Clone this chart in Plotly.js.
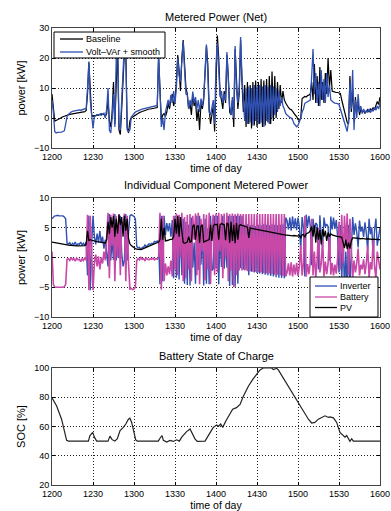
<!DOCTYPE html>
<html><head><meta charset="utf-8">
<script src="https://cdn.plot.ly/plotly-3.0.1.min.js"></script>
<style>html,body{margin:0;padding:0;background:#fff}#chart{width:391px;height:511px}</style>
</head><body><div id="chart"></div>
<script>
// time axis: minutes after 12:00, tick labels as time of day
const tickMinutes = [0,30,60,90,120,150,180,210,240];
const tickLabels = ['1200','1230','1300','1330','1400','1430','1500','1530','1600'];

// Panel 1: metered net power [kW], one sample per minute from 12:00
const baseline = [8,3,-1,-0.8,-0.5,-0.3,0,0.2,0.4,0.6,
0.8,1,1.1,1.2,1.3,1.4,1.5,1.6,1.6,1.7,
1.8,1.9,2,2,2.1,2.5,8,18.5,9,1,
0.5,0.8,0.7,1,0.9,1.2,1,1.3,1.2,0.5,
1.5,6,-1,-3,2,12,-2,14,24,-4,
-5.5,3,15,22,24,-3,-5,-1,0,0.3,
0.8,1,1.3,1.5,1.8,2,2.2,2.4,2.5,2.7,
2.8,3,3,3.1,3.2,3.3,3.4,3.5,20,8,
-0.7,1,1.5,0.5,2,5,3,6,8,4,
6,12,21,16,9,20,26,18,10,8,
3,5,1,8,4,6,-1,3,-4,5,
3,6,14,24,18,3,-2,1,4,-4.5,
15,27.5,20,8,6,3,9,5,21,14,
2,1,6,-3,23,10,3,8,26,12,
2,11,-3,12,-2,11,-3.5,12,-2.5,12.5,
-3,12,-2,13,-3,12.5,-2.5,13,-1.5,14,
-2,15.5,-1,14,0,12,3,11,5,9,
6,5,4,3.5,3,2.8,2.3,1.5,1,0.5,
-0.5,-0.8,0,6.5,7,7.2,7,7.5,7.6,8,
12,6,18,5,14,4,17,6,12,5,
15,8,20,10,16,9,8.8,8.6,8.5,8.5,
8.4,8.2,6,4,2,0,-1.5,-2,14,2,
10,-1,7,2,5,1,3,2,2.5,1.5,
2.2,2.8,2,3,2.5,3.5,2.8,4,5.5,4.5,
7];
const voltVarSmooth = [6,2,-4.5,-5,-4.8,-4.8,-4.6,-4.7,-4.5,-4.3,
-2,0.5,1.2,1.8,2,2.2,2.3,2.5,2.4,2.6,
2.7,2.6,2.8,2.9,3,3.2,10,18.8,6,0,
-3.5,0.5,1,1.2,1,1.3,1.5,1.2,1.6,0,
3,10,-4,-5,0,8,-3,20,25,-2,
-4,6,18,25,20,-4,-4.5,-4,0.3,1,
1.5,2,2.2,2.5,2.6,2.8,3,3.1,3.2,3.3,
3.4,3.5,3.6,3.7,3.8,3.8,4,4.2,21.5,6,
-3,0,-4,2,4.3,6,4,7.7,5,9,
4.9,10,20,14,12,18,25.5,16,8,7.7,
3,6,4,8.8,5,7,3,6,2,6.5,
4,7,16,24.5,15,2,1,3,6,-2,
18,25,16,7,9,5,8,6,22,12,
4,1,7,0,24,9,5,10,27,14,
4,-1,10,-2,10.5,-1.5,10,-2.5,11,-1,
10.5,-2,11,-1.5,10.5,-3,11,-1,10.5,-2,
11,0,10.5,1,10,2,9,4,7,4,
3,1.5,1,0.5,0.2,0,-0.5,-1.8,-2.5,-2.9,
-2.5,-1.5,0,2,3,4.9,5.2,5.4,5.5,6,
14,23,8,15,5,12,4,16,6,13,
5,15,7,11,6,5.5,5.2,5,5,4.8,
4.5,3,1,0,-1.5,-2.9,-4.5,-1,12,3,
16,-4,6,0,8,2,4,1.5,3,1.8,
2.5,2,3,1.8,2.8,2.2,3.5,2.6,4,3,
5];

// Panel 2: individual component power [kW], one sample per minute
const inverter = [6.5,6.8,7,7,7.1,7,7,6.9,7,6.8,
6.5,2.4,2.3,2.5,2,2.4,2.2,2.6,2,2.3,
2.2,2.6,2.1,2.4,2,2.6,-3,7,-5.5,2,
7,3.5,2.2,4,2.5,4.5,2.5,3.5,1.5,3,
0,-1.5,7.3,-0.5,3,-0.4,7.3,-0.5,4,-0.1,
7,0.8,-1.5,-0.4,7.3,-0.5,4.2,7,7.2,7,
6.9,6.5,1.9,1.6,1.7,1.3,1.7,1.7,2.1,1.8,
2.1,2.3,2.2,2.4,2.3,2.7,2.6,2.8,2.6,-4.5,
7,-4,7,3.8,5.8,4.4,5.8,3.5,6.3,-3.5,
7,-3.4,7,-3.7,6.8,-3,6.5,-4.4,6,-4.6,
5.5,-4.7,6.7,-1.7,2.5,-4.4,7,-2.1,7,-1.2,
4.5,-4.7,6.5,-4.4,4.9,-4.5,7,-2.2,-1.9,7,
-1.9,7,-4.5,4.5,-1.6,7,-1.9,2.9,-1.7,7,
-4.8,7,-4.6,7,-4.9,7,-4.4,7,-1.8,7,
-2,5.5,-2.1,5.6,-3,5.4,-2.4,5.5,-2.5,5.3,
-2.6,5.5,-2.7,5.4,-2.8,5.6,-2.9,5.5,-3,5.4,
-3.1,5.6,-3.2,5.5,-3.3,5.4,-3.4,5.5,-3.45,5.6,
-3.5,6.7,6.2,4.7,6.7,4.5,6.9,4.9,6.6,4.6,
6.7,5.2,1.3,6.8,4.9,-3.2,7.2,5.2,7,5.3,
-1.3,6.5,4.4,5.8,5.5,-2,7.1,3.2,1.8,6.7,
5.2,5.6,5.2,-0.5,6.9,4.7,6.7,4.8,6.3,3.5,
-2.5,5.45,-3.8,3.5,-5.4,1,-6,5.5,-5,2.8,
6.8,3.8,5.75,4.2,1.7,6.2,4.35,5.2,3.45,5.9,
4.1,1.15,6.5,3.9,5.05,0.1,4.55,6.55,2,3.5,
5];
const battery = [1,-4.5,-5,-5,-5,-5,-5.1,-5,-5,-4.9,
-4.5,-0.3,-0.2,-0.5,0,-0.4,-0.2,-0.6,-0.1,-0.4,
-0.3,-0.7,-0.2,-0.5,0,-0.5,7.2,-5.5,7,1,
-5.5,-1,0.5,-1.5,0.2,-2,0,-1,1,-0.5,
3,7.5,-3.5,7.2,2,7.4,-4,7,0,7.3,
-3,6,5,7.4,-4,7,-1,-5.3,-5.2,-5.4,
-5.3,-5,-0.5,-0.2,-0.4,0,-0.3,-0.2,-0.5,-0.1,
-0.3,-0.4,-0.2,-0.3,-0.1,-0.4,-0.2,-0.3,0,7.5,
-5.4,7,-4,-1,-3,-1.5,-2.8,-0.5,-3.2,7,
-2,7.4,-3,7.2,0,7.5,-4,6.8,-3.5,7.2,
-2,7.3,-4,7,3,7.4,-3,7.5,-4.5,6.5,
1,7.3,-3.8,7.2,-2,7.5,-4.5,5,7.2,-3,
7.4,-2.5,7.5,1,7.3,-3.5,7.4,0,7.5,-4,
7.3,-2.2,7.4,-5,7.3,-3,7.4,-2.2,7.3,-2.2,
7.3,-2.2,7.3,-2.3,7.3,-2.3,7.3,-2.4,7.3,-2.4,
7.3,-2.5,7.3,-2.5,7.3,-2.6,7.3,-2.7,7.3,-2.7,
7.3,-2.8,7.3,-2.9,7.3,-2.9,7.3,-3,7.3,-3.1,
7.3,-3.2,-2.5,-1,-3,-0.8,-3.2,-1.2,-2.9,-0.9,
-3.1,-1.5,2,-3,-1,7,-3.2,-1.1,-2.8,-0.8,
6.5,-3,1,-3.3,-0.5,5,-2.5,-1,3,-3.2,
-0.7,-2.8,-1,4,-2.9,-0.9,-3,-1.2,-2.7,0,
6,-2,7.2,-1,7,2,7.4,-3,6.5,0,
-3.5,-0.5,-2.5,-1,1.5,-3,-1.2,-2,-0.3,-2.8,
-1,2,-3.4,-0.8,-2,3,-1.5,-3.5,1,-0.5,
-2];
const pv = [2.6,2.55,2.5,2.45,2.4,2.35,2.3,2.25,2.2,2.2,
2.15,2.1,2.1,2.05,2.05,2,2,2,1.95,1.95,
1.95,1.95,1.95,1.95,2,2.2,4.5,2.8,3,2.9,
2.8,2.75,2.7,2.65,2.6,2.55,2.5,2.5,2.45,2.45,
3,6,4,6.8,5,7,3.5,6.5,4,7.2,
5.5,6.8,3.5,7,4.5,6.5,3.2,2.3,2,1.8,
1.6,1.5,1.4,1.35,1.3,1.35,1.4,1.5,1.6,1.7,
1.8,1.9,2,2.1,2.2,2.3,2.4,2.5,2.6,3,
6.5,3,5,2.8,2.8,2.9,3,3,3.1,3.5,
6.5,4,7,3.5,6.8,4.5,2.5,2.4,2.5,2.6,
3.5,2.6,2.7,5.3,5.5,3,5.2,5.4,2.5,5.3,
5.5,2.6,2.7,2.8,2.9,3,5.5,2.8,5.3,5.6,
5.5,5.6,3,5.5,5.7,5.6,5.5,2.9,5.8,5.6,
2.5,6,2.8,5.5,2.4,5.8,3,5.4,5.5,5.4,
5.3,5.25,5.2,5.1,3.3,5,4.9,4.85,4.8,4.75,
4.7,4.65,4.6,4.55,4.5,4.45,4.4,4.35,4.3,4.25,
4.2,4.15,4.1,4.05,4,3.95,3.9,3.9,3.85,3.8,
3.8,3.75,3.75,3.7,3.7,3.7,3.65,3.7,3.65,3.7,
3.6,3.7,3.3,3.8,3.9,3.4,4,4.1,4.2,4.5,
5.2,3.5,5.4,2.5,5,3,4.6,2.2,4.8,3.5,
4.5,2.8,4.2,3.5,4,3.8,3.7,3.6,3.6,3.5,
3.5,3.45,3.4,2.5,1.6,3,1.4,2.5,1.5,2.8,
3.3,3.3,3.25,3.2,3.2,3.2,3.15,3.2,3.15,3.1,
3.1,3.15,3.1,3.1,3.05,3.1,3.05,3.05,3,3,
3];

// Panel 3: battery state of charge [%]
const socMinutes = [0,3.4,7,10.7,12,26.6,27.8,29.8,31,32.7,41,42.4,44,46,47.8,49.8,52.2,54,55.9,57,58.3,59.5,61.2,62.4,77.8,79,80.5,81.5,84,86.3,88.8,91.2,93.2,94.9,96.8,98.5,101,102.2,104.6,106.3,112,113.7,116,118,120.5,121.7,123.4,124.9,127.3,129.8,132.2,135,137.6,140,143.7,146.8,149.8,152.2,154.6,158.3,160.7,162,164.4,165.6,169.3,174,179,183.9,187.6,190,192.4,194.9,197.3,199.8,202.2,203.4,205.9,208.3,210.7,213.2,214.4,215.6,216.8,218,219.3,220.5,240];
const socValues = [79.6,74,65,50.5,50,50,53.8,56,52.7,50,50,53.4,51,50,51.6,57.2,59.4,61.7,65,65.7,62.8,57.2,51,50,50,52,53.8,50.5,49.4,50.5,49.8,50.9,50,52.7,55,56.5,58.3,56,51.6,49.8,50,52.7,56,59.4,61,60.1,61.7,59.4,63.9,68.4,71.8,72.9,75.1,80.7,87.5,92,95.3,98.7,100,99.8,100,99,99.8,98.7,93,85.2,77.4,70.6,65,62.4,62.8,65,66.2,67.3,66.2,66.6,65.9,62.8,56,53.4,52.7,53.8,51.6,49.8,51.6,50,50];

// legend entries
const netLegend = ['Baseline', 'Volt\u2013VAr + smooth'];
const componentLegend = ['Inverter', 'Battery', 'PV'];

const minutes = baseline.map((_, i) => i);

const BLUE = '#3050b2', MAGENTA = '#c848a8', BLACK = '#000', FONT = 'Liberation Sans, Arial, sans-serif';

const traces = [
  {x: minutes, y: baseline, name: netLegend[0], type: 'scatter', mode: 'lines', line: {color: BLACK, width: 1.2}, xaxis: 'x', yaxis: 'y'},
  {x: minutes, y: voltVarSmooth, name: netLegend[1], type: 'scatter', mode: 'lines', line: {color: BLUE, width: 1.3}, xaxis: 'x', yaxis: 'y'},
  {x: minutes, y: inverter, name: componentLegend[0], type: 'scatter', mode: 'lines', line: {color: BLUE, width: 1.4}, xaxis: 'x2', yaxis: 'y2'},
  {x: minutes, y: battery, name: componentLegend[1], type: 'scatter', mode: 'lines', line: {color: MAGENTA, width: 1.6}, xaxis: 'x2', yaxis: 'y2'},
  {x: minutes, y: pv, name: componentLegend[2], type: 'scatter', mode: 'lines', line: {color: BLACK, width: 1.3}, xaxis: 'x2', yaxis: 'y2'},
  {x: socMinutes, y: socValues, name: 'SOC', type: 'scatter', mode: 'lines', line: {color: '#222', width: 1.2}, xaxis: 'x3', yaxis: 'y3'}
];

function xAxis(anchor) {
  return {anchor: anchor, domain: [0, 1], range: [0, 240], tickvals: tickMinutes, ticktext: tickLabels,
    ticks: 'inside', ticklen: 3, tickcolor: '#000', showline: true, mirror: 'ticks', linecolor: '#444', linewidth: 1,
    showgrid: true, gridcolor: '#222', griddash: '1px,2px', gridwidth: 1, zeroline: false,
    tickfont: {size: 9, color: '#000', family: FONT},
    title: {text: 'time of day', font: {size: 10.5, color: '#000', family: FONT}, standoff: 2}};
}
function yAxis(anchor, domain, range, tickvals, title) {
  return {anchor: anchor, domain: domain, range: range, tickvals: tickvals,
    ticks: 'inside', ticklen: 3, tickcolor: '#000', showline: true, mirror: 'ticks', linecolor: '#444', linewidth: 1,
    showgrid: true, gridcolor: '#222', griddash: '1px,2px', gridwidth: 1, zeroline: false,
    tickfont: {size: 9, color: '#000', family: FONT},
    title: {text: title, font: {size: 11, color: '#000', family: FONT}, standoff: 6}};
}

// custom compact legend boxes (paper coordinates of the plot area)
function legendBox(x0, x1, y0, y1, rows, names, colors) {
  const shapes = [{type: 'rect', xref: 'paper', yref: 'paper', x0: x0, x1: x1, y0: y0, y1: y1,
    fillcolor: '#fff', line: {color: '#000', width: 1}, layer: 'above'}];
  const notes = [];
  names.forEach((n, i) => {
    shapes.push({type: 'line', xref: 'paper', yref: 'paper', x0: rows.lx0, x1: rows.lx1, y0: rows.y[i], y1: rows.y[i],
      line: {color: colors[i], width: 1.3}, layer: 'above'});
    notes.push({text: n, xref: 'paper', yref: 'paper', x: rows.tx, y: rows.y[i], xanchor: 'left', yanchor: 'middle',
      showarrow: false, font: {size: 9, family: FONT, color: '#000'}});
  });
  return {shapes, notes};
}
const leg1 = legendBox(0.0061, 0.3445, 0.9344, 0.9912, {lx0: 0.0244, lx1: 0.0945, tx: 0.0976, y: [0.9759, 0.9475]}, netLegend, [BLACK, BLUE]);
const leg2 = legendBox(0.7866, 0.9939, 0.3676, 0.4551, {lx0: 0.8018, lx1: 0.8689, tx: 0.872, y: [0.4354, 0.4114, 0.3884]}, componentLegend, [BLUE, MAGENTA, BLACK]);

const layout = {
  width: 391, height: 511,
  margin: {l: 52, r: 11, t: 28, b: 26},
  paper_bgcolor: '#fff', plot_bgcolor: '#fff',
  font: {family: FONT, color: '#000'},
  showlegend: false,
  xaxis: xAxis('y'), xaxis2: xAxis('y2'), xaxis3: xAxis('y3'),
  yaxis: yAxis('x', [0.7374, 1], [-10, 30], [-10, 0, 10, 20, 30], 'power [kW]'),
  yaxis2: yAxis('x2', [0.3676, 0.628], [-10, 10], [-10, -5, 0, 5, 10], 'power [kW]'),
  yaxis3: yAxis('x3', [0, 0.256], [20, 100], [20, 40, 60, 80, 100], 'SOC [%]'),
  shapes: leg1.shapes.concat(leg2.shapes),
  annotations: [
    {text: 'Metered Power (Net)', xref: 'paper', yref: 'paper', x: 0.5, y: 1.0241, showarrow: false, yanchor: 'middle', font: {size: 11, family: FONT}},
    {text: 'Individual Component Metered Power', xref: 'paper', yref: 'paper', x: 0.5, y: 0.6565, showarrow: false, yanchor: 'middle', font: {size: 11, family: FONT}},
    {text: 'Battery State of Charge', xref: 'paper', yref: 'paper', x: 0.5, y: 0.2823, showarrow: false, yanchor: 'middle', font: {size: 11, family: FONT}}
  ].concat(leg1.notes, leg2.notes)
};

Plotly.newPlot('chart', traces, layout, {displayModeBar: false, staticPlot: true});
</script>
</body></html>
